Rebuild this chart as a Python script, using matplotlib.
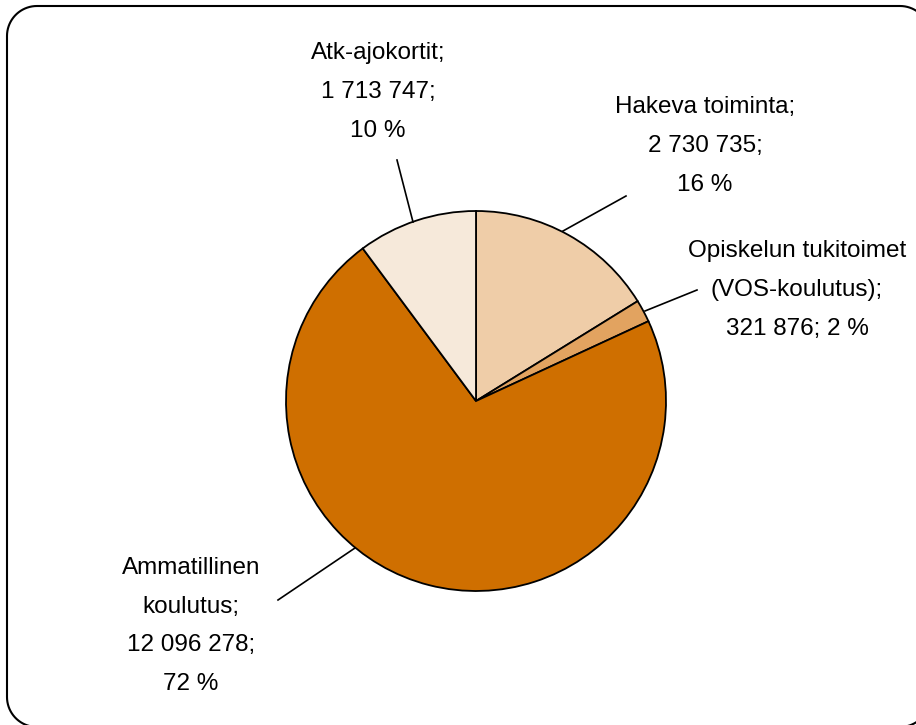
"""
Piirakkakaavio: rahoituksen jakautuminen toiminnoittain
"""

import numpy as np
import matplotlib
matplotlib.use("Agg")
import matplotlib.pyplot as plt

# ── Data ───────────────────────────────────────────────
labels = ["Hakeva toiminta", "Opiskelun tukitoimet\n(VOS-koulutus)",
          "Ammatillinen\nkoulutus", "Atk-ajokortit"]
values = [2730735, 321876, 12096278, 1713747]
colors = ["#EFCDA8", "#E2A360", "#CF6F00", "#F6E9DA"]

def fmt(v):
    return f"{v:,}".replace(",", " ")

total = sum(values)
pcts = [round(v / total * 100) for v in values]
texts = [
    f"Hakeva toiminta;\n{fmt(values[0])};\n{pcts[0]} %",
    f"Opiskelun tukitoimet\n(VOS-koulutus);\n{fmt(values[1])}; {pcts[1]} %",
    f"Ammatillinen\nkoulutus;\n{fmt(values[2])};\n{pcts[2]} %",
    f"Atk-ajokortit;\n{fmt(values[3])};\n{pcts[3]} %",
]

# ── Piirto (koordinaatit = pikselit, y ylöspäin) ───────
W, H = 916, 725
fig = plt.figure(figsize=(W / 100, H / 100), dpi=100)
ax = fig.add_axes([0, 0, 1, 1])

cx, cy, r = 476, H - 401, 190
ax.pie(values, colors=colors, startangle=90, counterclock=False,
       center=(cx, cy), radius=r, frame=True,
       wedgeprops=dict(edgecolor="black", linewidth=1.3))
ax.set_xlim(0, W)
ax.set_ylim(0, H)
ax.set_aspect("equal")
ax.axis("off")

# tekstien paikat ja viivat (pikseleinä, y ylhäältä)
text_pos = [(705, 146), (797, 290), (191, 626), (378, 92)]
leaders = [((563, 231), (626, 196)),
           ((645, 311), (697, 290)),
           ((355, 548), (278, 600)),
           ((413, 222), (397, 160))]

for t, (tx, ty), (p0, p1) in zip(texts, text_pos, leaders):
    ax.text(tx, H - ty, t, ha="center", va="center", fontsize=17.5,
            linespacing=2.0, color="black", family="Liberation Sans")
    ax.plot([p0[0], p1[0]], [H - p0[1], H - p1[1]], color="black", lw=1.2)

# pyöristetty kehys (osittain kuvan ulkopuolella oikealla ja alhaalla)
x0, x1, y0, y1, rr = 7, 930, 6, 727, 30
pts = []
for (ccx, ccy, a0) in [(x1 - rr, y0 + rr, 0), (x0 + rr, y0 + rr, 90),
                       (x0 + rr, y1 - rr, 180), (x1 - rr, y1 - rr, 270)]:
    a = np.radians(np.linspace(a0, a0 + 90, 20))
    pts += list(zip(ccx + rr * np.cos(a), ccy - rr * np.sin(a)))
pts.append(pts[0])
px, py = zip(*pts)
ax.plot(px, [H - p for p in py], color="black", lw=1.5, clip_on=False)

fig.savefig("out.png", dpi=100, facecolor="white")
plt.close()
